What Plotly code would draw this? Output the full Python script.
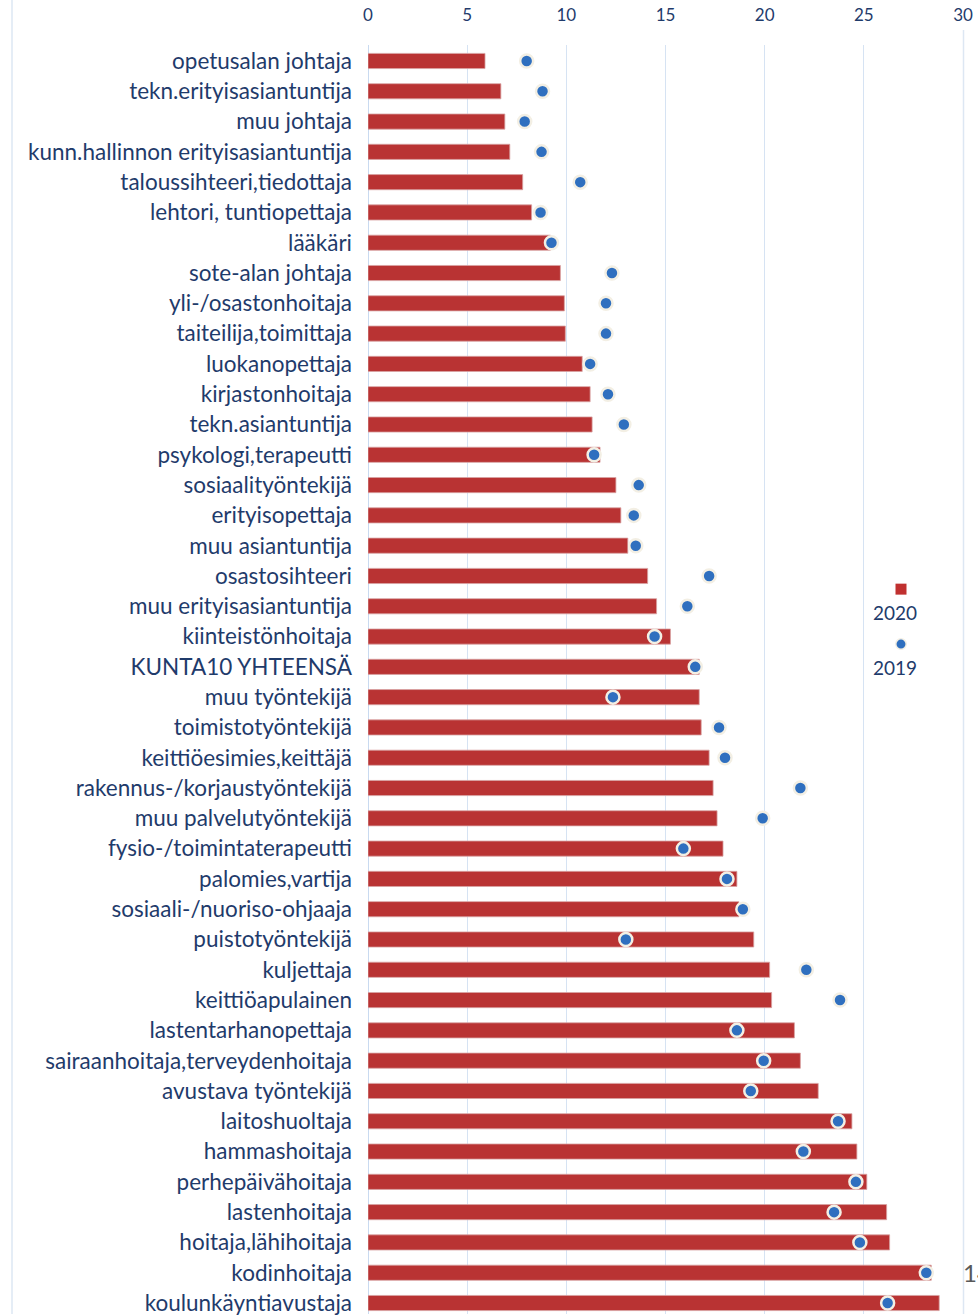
import plotly.graph_objects as go

categories = [
    "opetusalan johtaja", "tekn.erityisasiantuntija", "muu johtaja",
    "kunn.hallinnon erityisasiantuntija", "taloussihteeri,tiedottaja",
    "lehtori, tuntiopettaja", "lääkäri", "sote-alan johtaja",
    "yli-/osastonhoitaja", "taiteilija,toimittaja", "luokanopettaja",
    "kirjastonhoitaja", "tekn.asiantuntija", "psykologi,terapeutti",
    "sosiaalityöntekijä", "erityisopettaja", "muu asiantuntija",
    "osastosihteeri", "muu erityisasiantuntija", "kiinteistönhoitaja",
    "KUNTA10 YHTEENSÄ", "muu työntekijä", "toimistotyöntekijä",
    "keittiöesimies,keittäjä", "rakennus-/korjaustyöntekijä",
    "muu palvelutyöntekijä", "fysio-/toimintaterapeutti", "palomies,vartija",
    "sosiaali-/nuoriso-ohjaaja", "puistotyöntekijä", "kuljettaja",
    "keittiöapulainen", "lastentarhanopettaja", "sairaanhoitaja,terveydenhoitaja",
    "avustava työntekijä", "laitoshuoltaja", "hammashoitaja",
    "perhepäivähoitaja", "lastenhoitaja", "hoitaja,lähihoitaja",
    "kodinhoitaja", "koulunkäyntiavustaja",
]

values_2020 = [
    5.9, 6.7, 6.9, 7.15, 7.8, 8.25, 9.2, 9.7, 9.9, 9.95, 10.8, 11.2, 11.3,
    11.7, 12.5, 12.75, 13.1, 14.1, 14.55, 15.25, 16.7, 16.7, 16.8, 17.2,
    17.4, 17.6, 17.9, 18.6, 18.7, 19.45, 20.25, 20.35, 21.5, 21.8, 22.7,
    24.4, 24.65, 25.15, 26.15, 26.3, 28.4, 28.8,
]

values_2019 = [
    8.0, 8.8, 7.9, 8.75, 10.7, 8.7, 9.25, 12.3, 12.0, 12.0, 11.2, 12.1, 12.9,
    11.4, 13.65, 13.4, 13.5, 17.2, 16.1, 14.45, 16.5, 12.35, 17.7, 18.0,
    21.8, 19.9, 15.9, 18.1, 18.9, 13.0, 22.1, 23.8, 18.6, 19.95, 19.3,
    23.7, 21.95, 24.6, 23.5, 24.8, 28.15, 26.2,
]

x_ticks = [0, 5, 10, 15, 20, 25, 30]

TEXT = "#1f3b6b"
W, H = 978, 1316
# page-pixel geometry (body margin removed by post_script)
P_LEFT, P_RIGHT, P_TOP = 368, 963, 45
ML = P_LEFT
MR = W - P_RIGHT
MT = P_TOP
MB = 0
plot_w = W - ML - MR
plot_h = H - MT - MB
row_px = (1305 - 61) / (len(categories) - 1)
y_top = -(61 - P_TOP) / row_px
y_bot = y_top + plot_h / row_px

fig = go.Figure()
fig.add_trace(go.Bar(
    x=values_2020, y=categories, orientation="h", name="2020",
    width=0.5,
    marker=dict(color="#b93333", line=dict(color="#d8a3a3", width=0.8)),
    showlegend=False,
))
fig.add_trace(go.Scatter(
    x=values_2019, y=categories, mode="markers", name="2019",
    marker=dict(size=13, color="#2f6fbf", line=dict(color="#f3efe4", width=2.5)),
    showlegend=False,
))

fig.update_layout(
    width=W, height=H,
    margin=dict(l=ML, r=MR, t=MT, b=MB, pad=0),
    paper_bgcolor="white", plot_bgcolor="white",
    font=dict(family="Lato, Open Sans, sans-serif", color=TEXT),
    xaxis=dict(
        side="top", range=[0, 30], tickvals=x_ticks,
        showgrid=True, gridcolor="#d6e3f3", gridwidth=1,
        zeroline=True, zerolinecolor="#c9daf0", zerolinewidth=1,
        showline=False, ticks="", ticklabelstandoff=20,
        tickfont=dict(size=17, color=TEXT),
        fixedrange=True,
    ),
    yaxis=dict(
        categoryorder="array", categoryarray=categories,
        range=[y_bot, y_top], showgrid=False, zeroline=False,
        ticks="", ticklabelstandoff=15,
        tickfont=dict(size=22.5, color=TEXT),
    ),
)

def px_to_paper(px):
    return (px - P_LEFT) / plot_w

def py_to_paper(py):
    return 1 - (py - P_TOP) / plot_h

# frame lines of the original chart
fig.add_shape(type="line", xref="paper", yref="paper",
              x0=px_to_paper(12), x1=px_to_paper(12), y0=0, y1=py_to_paper(0),
              line=dict(color="#dde7f3", width=1.5))
fig.add_shape(type="line", xref="paper", yref="paper",
              x0=px_to_paper(963.5), x1=px_to_paper(963.5), y0=0, y1=py_to_paper(30),
              line=dict(color="#dde7f3", width=1.5))

# custom legend
lx = px_to_paper(901)
sq = 5.5 / plot_w
sqy = 5.5 / plot_h
fig.add_shape(type="rect", xref="paper", yref="paper",
              x0=lx - sq, x1=lx + sq, y0=py_to_paper(590) - sqy, y1=py_to_paper(590) + sqy,
              fillcolor="#c0302f", line=dict(width=0))
fig.add_shape(type="circle", xref="paper", yref="paper",
              x0=lx - sq * 0.95, x1=lx + sq * 0.95,
              y0=py_to_paper(645) - sqy * 0.95, y1=py_to_paper(645) + sqy * 0.95,
              fillcolor="#2f6fbf", line=dict(color="#f3efe4", width=1.5))
fig.add_annotation(text="2020", xref="paper", yref="paper", xanchor="center",
                   x=px_to_paper(895), y=py_to_paper(613), showarrow=False,
                   font=dict(size=19, color=TEXT))
fig.add_annotation(text="2019", xref="paper", yref="paper", xanchor="center",
                   x=px_to_paper(895), y=py_to_paper(668), showarrow=False,
                   font=dict(size=19, color=TEXT))

# clipped data label at right edge
fig.add_annotation(text="14", xref="paper", yref="y",
                   x=px_to_paper(961), y="kodinhoitaja", xanchor="left",
                   showarrow=False, font=dict(size=24, color="#595959"))

fig.write_html(
    "out.html",
    config={"displayModeBar": False},
    post_script="document.body.style.margin='0';document.body.style.overflow='hidden';",
)
